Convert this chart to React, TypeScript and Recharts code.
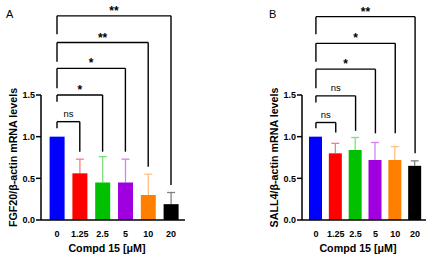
import React from 'react';
import { BarChart, Bar, XAxis, YAxis, ReferenceLine, Cell } from 'recharts';

// Compd 15 doses and qPCR results (mean, upper SD only)
const doses = ['0', '1.25', '2.5', '5', '10', '20'];
const fgf20Mean = [1.0, 0.56, 0.45, 0.45, 0.3, 0.19];
const fgf20Err = [0, 0.17, 0.31, 0.28, 0.25, 0.14];
const sall4Mean = [1.0, 0.8, 0.84, 0.72, 0.72, 0.65];
const sall4Err = [0, 0.12, 0.15, 0.21, 0.16, 0.06];

const barColors = ['#0000FF', '#FF0000', '#00C000', '#A000E0', '#FF8000', '#000000'];
const errColors = ['#8080FF', '#FF7A7A', '#7CE07C', '#CF84F0', '#FFBF80', '#808080'];

// significance brackets, all against the 0 µM control
const fgf20Sig = {
  targets: ['1.25', '2.5', '5', '10', '20'],
  labels: ['ns', '*', '*', '**', '**'],
  levels: [1.18, 1.5, 1.82, 2.13, 2.45],
  leftEnds: [1.1, 1.42, 1.58, 1.9, 2.23],
  rightEnds: [0.82, 0.82, 0.82, 0.64, 0.42],
};
const sall4Sig = {
  targets: ['1.25', '2.5', '5', '10', '20'],
  labels: ['ns', 'ns', '*', '*', '**'],
  levels: [1.17, 1.49, 1.81, 2.12, 2.44],
  leftEnds: [1.1, 1.41, 1.58, 1.9, 2.23],
  rightEnds: [1.05, 1.07, 1.04, 1.04, 0.8],
};

const FONT = '"Liberation Sans", Arial, sans-serif';

// bar + one-sided error bar, sized from the bar's own pixel scale
const barWithError = (props: any) => {
  const { x, y, width, height, index, payload } = props;
  const perUnit = payload.mean ? height / payload.mean : 0;
  const top = y - payload.err * perUnit;
  const cx = x + width / 2;
  return (
    <g>
      {payload.err > 0 && (
        <g stroke={errColors[index]} strokeWidth={1.3}>
          <line x1={cx} y1={y} x2={cx} y2={top} />
          <line x1={cx - 4} y1={top} x2={cx + 4} y2={top} />
        </g>
      )}
      <rect x={x} y={y} width={width} height={height} fill={barColors[index]} />
    </g>
  );
};

const sigLabel = (text: string) =>
  text === 'ns'
    ? { value: text, position: 'top', offset: 5, fontSize: 9.5, fill: '#000' }
    : { value: text, position: 'top', offset: 1, fontSize: 12, fontWeight: 'bold', fill: '#000' };

function Panel({ mean, err, sig, yLabel, marginLeft, marginRight, padding, barSize }: any) {
  const data = doses.map((d, i) => ({ dose: d, mean: mean[i], err: err[i] }));
  return (
    <BarChart
      width={216}
      height={256}
      data={data}
      margin={{ top: 95, right: marginRight, bottom: 0, left: marginLeft }}
      style={{ fontFamily: FONT }}
    >
      <XAxis
        dataKey="dose"
        height={36}
        padding={padding}
        tickLine={false}
        axisLine={{ stroke: '#000', strokeWidth: 1.5 }}
        tick={{ fontSize: 9, fontWeight: 'bold', fill: '#000' }}
        tickMargin={5}
        label={{ value: 'Compd 15 [μM]', position: 'insideBottom', offset: 4, dx: -6, fontSize: 10.7, fontWeight: 'bold', fill: '#000' }}
      />
      <YAxis
        width={41}
        domain={[0, 1.5]}
        ticks={[0, 0.5, 1.0, 1.5]}
        tickFormatter={(v: number) => v.toFixed(1)}
        axisLine={{ stroke: '#000', strokeWidth: 1.5 }}
        tickLine={{ stroke: '#000', strokeWidth: 1.5 }}
        tickSize={5}
        tickMargin={1}
        tick={{ fontSize: 9, fontWeight: 'bold', fill: '#000' }}
        label={{ value: yLabel, angle: -90, position: 'center', dx: -7, fontSize: 10.7, fontWeight: 'bold', fill: '#000' }}
      />
      <Bar dataKey="mean" barSize={barSize} isAnimationActive={false} shape={barWithError}>
        {data.map((_, i) => (
          <Cell key={i} fill={barColors[i]} />
        ))}
      </Bar>
      {sig.targets.map((t: string, i: number) => (
        <ReferenceLine
          key={'h' + i}
          segment={[{ x: '0', y: sig.levels[i] }, { x: t, y: sig.levels[i] }]}
          ifOverflow="visible"
          stroke="#000"
          strokeWidth={1.4}
          label={sigLabel(sig.labels[i])}
        />
      ))}
      {sig.targets.map((t: string, i: number) => (
        <ReferenceLine
          key={'l' + i}
          segment={[{ x: '0', y: sig.levels[i] }, { x: '0', y: sig.leftEnds[i] }]}
          ifOverflow="visible"
          stroke="#000"
          strokeWidth={1.4}
        />
      ))}
      {sig.targets.map((t: string, i: number) => (
        <ReferenceLine
          key={'r' + i}
          segment={[{ x: t, y: sig.levels[i] }, { x: t, y: sig.rightEnds[i] }]}
          ifOverflow="visible"
          stroke="#000"
          strokeWidth={1.4}
        />
      ))}
    </BarChart>
  );
}

export default function App() {
  const letter = { position: 'absolute' as const, fontFamily: FONT, fontSize: 11, color: '#000', lineHeight: '11px' };
  return (
    <div style={{ position: 'absolute', left: 0, top: 0, width: 432, height: 256, background: '#fff' }}>
      <div style={{ position: 'absolute', left: 0, top: 0 }}>
        <Panel
          mean={fgf20Mean}
          err={fgf20Err}
          sig={fgf20Sig}
          yLabel="FGF20/β-actin mRNA levels"
          marginLeft={0}
          marginRight={31}
          padding={{ left: 4.6, right: 2.6 }}
          barSize={15}
        />
      </div>
      <div style={{ position: 'absolute', left: 216, top: 0 }}>
        <Panel
          mean={sall4Mean}
          err={sall4Err}
          sig={sall4Sig}
          yLabel="SALL4/β-actin mRNA levels"
          marginLeft={45}
          marginRight={6}
          padding={{ left: 4, right: 1 }}
          barSize={13}
        />
      </div>
      <div style={{ ...letter, left: 6, top: 9 }}>A</div>
      <div style={{ ...letter, left: 269, top: 9 }}>B</div>
    </div>
  );
}
